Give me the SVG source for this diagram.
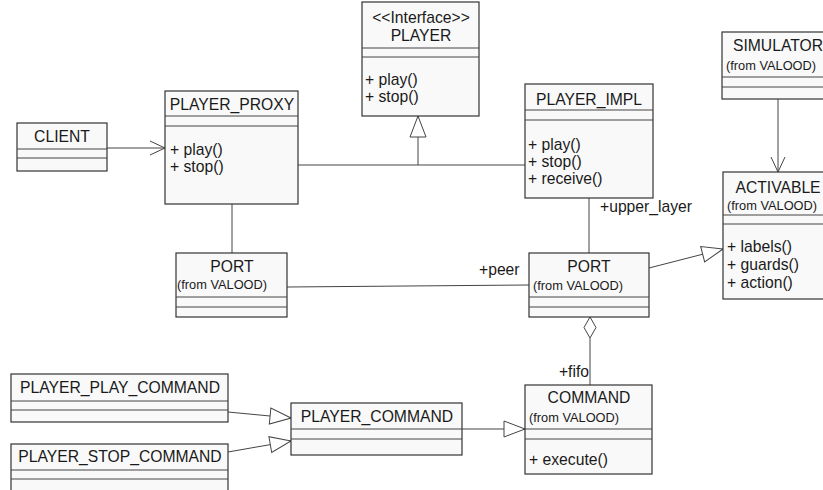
<svg xmlns="http://www.w3.org/2000/svg" width="823" height="490" viewBox="0 0 823 490">
<style>
.box{fill:#f9f9f9;stroke:#333;stroke-width:1.2}
.sep{stroke:#444;stroke-width:1;fill:none}
.t{font-family:"Liberation Sans",Arial,sans-serif;font-size:15.7px;fill:#1a1a1a}
.s{font-family:"Liberation Sans",Arial,sans-serif;font-size:12.8px;fill:#1a1a1a}
.c{text-anchor:middle}
.e{text-anchor:end}
.ln{stroke:#444;stroke-width:1;fill:none}
</style>
<defs>
<marker id="tri" markerUnits="userSpaceOnUse" markerWidth="24" markerHeight="20" viewBox="-1 -1 24 20" refX="21" refY="8" orient="auto">
<path d="M21,8 L0,0 L0,16 Z" fill="#fff" stroke="#444" stroke-width="1"/>
</marker>
<marker id="arr" markerUnits="userSpaceOnUse" markerWidth="18" markerHeight="18" viewBox="-1 -1 18 18" refX="15" refY="7" orient="auto">
<path d="M0,0 L15,7 L0,14" fill="none" stroke="#444" stroke-width="1"/>
</marker>
</defs>
<g id="connectors">
<line class="ln" x1="107" y1="148" x2="165" y2="148" marker-end="url(#arr)"/>
<line class="ln" x1="298" y1="165" x2="525" y2="165"/>
<line class="ln" x1="418" y1="165" x2="418" y2="116" marker-end="url(#tri)"/>
<line class="ln" x1="232" y1="204" x2="232" y2="253"/>
<line class="ln" x1="589" y1="198" x2="589" y2="253"/>
<text class="t" x="600" y="212">+upper_layer</text>
<line class="ln" x1="287" y1="287" x2="529" y2="285"/>
<text class="t" x="479" y="275">+peer</text>
<line class="ln" x1="649" y1="268" x2="723" y2="249" marker-end="url(#tri)"/>
<line class="ln" x1="778" y1="99" x2="778" y2="172" marker-end="url(#arr)"/>
<line class="ln" x1="228" y1="412" x2="291" y2="418" marker-end="url(#tri)"/>
<line class="ln" x1="228" y1="452" x2="291" y2="441" marker-end="url(#tri)"/>
<line class="ln" x1="462" y1="429" x2="525" y2="429" marker-end="url(#tri)"/>
<line class="ln" x1="590" y1="338" x2="590" y2="385"/>
<polygon points="590,317 596,327.5 590,338 584,327.5" fill="#fff" stroke="#444" stroke-width="1"/>
<text class="t e" x="589" y="377">+fifo</text>
</g>
<g id="client">
<rect class="box" x="17" y="123" width="90" height="48"/>
<path class="sep" d="M17,149H107M17,158H107"/>
<text class="t c" x="62" y="142">CLIENT</text>
</g>
<g id="player_proxy">
<rect class="box" x="165" y="91" width="133" height="113"/>
<path class="sep" d="M165,116H298M165,126H298"/>
<text class="t c" x="232" y="110">PLAYER_PROXY</text>
<text class="t" x="170" y="155">+ play()</text>
<text class="t" x="170" y="172">+ stop()</text>
</g>
<g id="player">
<rect class="box" x="362" y="2" width="117" height="114"/>
<path class="sep" d="M362,48H479M362,57H479"/>
<text class="t c" x="421" y="23">&lt;&lt;Interface&gt;&gt;</text>
<text class="t c" x="421" y="41">PLAYER</text>
<text class="t" x="365" y="85">+ play()</text>
<text class="t" x="365" y="102">+ stop()</text>
</g>
<g id="player_impl">
<rect class="box" x="525" y="84" width="128" height="114"/>
<path class="sep" d="M525,110H653M525,120H653"/>
<text class="t c" x="589" y="105">PLAYER_IMPL</text>
<text class="t" x="528" y="150">+ play()</text>
<text class="t" x="528" y="167">+ stop()</text>
<text class="t" x="528" y="184">+ receive()</text>
</g>
<g id="simulator">
<rect class="box" x="722" y="32" width="112" height="67"/>
<path class="sep" d="M722,77H834M722,87H834"/>
<text class="t c" x="778" y="51">SIMULATOR</text>
<text class="s" x="726" y="70">(from VALOOD)</text>
</g>
<g id="activable">
<rect class="box" x="723" y="172" width="111" height="127"/>
<path class="sep" d="M723,215H834M723,224H834"/>
<text class="t c" x="778" y="193">ACTIVABLE</text>
<text class="s" x="727" y="210">(from VALOOD)</text>
<text class="t" x="727" y="252">+ labels()</text>
<text class="t" x="727" y="270">+ guards()</text>
<text class="t" x="727" y="288">+ action()</text>
</g>
<g id="port_left">
<rect class="box" x="176" y="253" width="111" height="64"/>
<path class="sep" d="M176,297H287M176,307H287"/>
<text class="t c" x="232" y="272">PORT</text>
<text class="s" x="177" y="289">(from VALOOD)</text>
</g>
<g id="port_right">
<rect class="box" x="529" y="253" width="120" height="64"/>
<path class="sep" d="M529,297H649M529,307H649"/>
<text class="t c" x="589" y="272">PORT</text>
<text class="s" x="533" y="290">(from VALOOD)</text>
</g>
<g id="player_play_command">
<rect class="box" x="11" y="374" width="217" height="48"/>
<path class="sep" d="M11,401H228M11,410H228"/>
<text class="t c" x="120" y="393">PLAYER_PLAY_COMMAND</text>
</g>
<g id="player_stop_command">
<rect class="box" x="11" y="444" width="217" height="50"/>
<path class="sep" d="M11,470H228M11,479H228"/>
<text class="t c" x="120" y="462">PLAYER_STOP_COMMAND</text>
</g>
<g id="player_command">
<rect class="box" x="291" y="403" width="171" height="52"/>
<path class="sep" d="M291,429H462M291,439H462"/>
<text class="t c" x="377" y="422">PLAYER_COMMAND</text>
</g>
<g id="command">
<rect class="box" x="525" y="385" width="127" height="89"/>
<path class="sep" d="M525,429H652M525,439H652"/>
<text class="t c" x="589" y="403">COMMAND</text>
<text class="s" x="529" y="422">(from VALOOD)</text>
<text class="t" x="529" y="465">+ execute()</text>
</g>
</svg>
